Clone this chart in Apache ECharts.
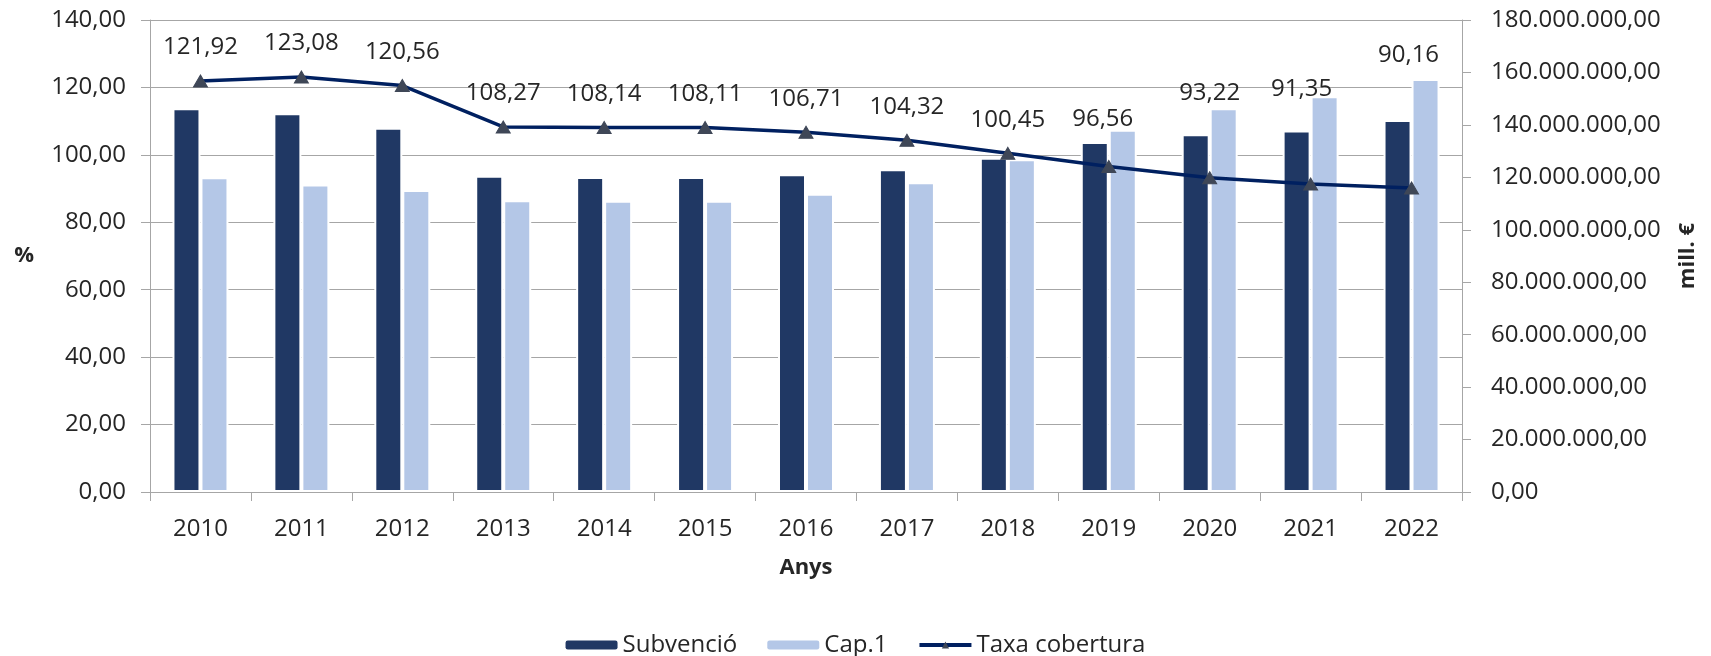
<!DOCTYPE html>
<html>
<head>
<meta charset="utf-8">
<title>Subvenció i Cap.1</title>
<script src="https://cdn.jsdelivr.net/npm/echarts@6.0.0/dist/echarts.min.js"></script>
<style>
html, body {
    margin: 0;
    padding: 0;
    background: #fff;
}
#chart {
    width: 1711px;
    height: 656px;
}
</style>
</head>
<body>
<div id="chart"></div>
<script>
// dades
var anys = ["2010", "2011", "2012", "2013", "2014", "2015", "2016", "2017", "2018", "2019", "2020", "2021", "2022"];
var subvencio = [146300000, 144400000, 138900000, 120600000, 120100000, 120100000, 121200000, 123100000, 127500000, 133500000, 136400000, 137900000, 141900000];
var cap1 = [120050000, 117300000, 115200000, 111300000, 111100000, 111100000, 113700000, 118100000, 126900000, 138100000, 146300000, 150900000, 157500000];
var taxaCobertura = [121.92, 123.08, 120.56, 108.27, 108.14, 108.11, 106.71, 104.32, 100.45, 96.56, 93.22, 91.35, 90.16];

// desplaçament manual de les etiquetes (com a l'original)
var labelDx = [0, 0, 0, 0, 0, 0, 0, 0, 0, -6, 0, -9, -3];
var labelDy = [0, 0, 0, 0, 0, 0, 0, 0, 0, -14, -51, -61, -99];

var FONT = "'Open Sans', 'DejaVu Sans', sans-serif";
var TXT = "#262626";
var GRIS = "#a6a6a6";

function fmtPct(v) {
    return Number(v).toFixed(2).replace(".", ",");
}
function fmtEur(v) {
    return String(Math.round(v)).replace(/\B(?=(\d{3})+(?!\d))/g, ".") + ",00";
}

var taxaData = taxaCobertura.map(function (v, i) {
    return {
        value: v,
        label: { offset: [labelDx[i], labelDy[i]] }
    };
});

var myChart = echarts.init(document.getElementById("chart"));
myChart.setOption({
    animation: false,
    textStyle: { fontFamily: FONT },
    grid: {
        left: 150,
        right: 249,
        top: 20,
        bottom: 164,
        containLabel: false
    },
    legend: {
        data: ["Subvenció", "Cap.1", "Taxa cobertura"],
        left: "center",
        top: 628,
        itemWidth: 52,
        itemHeight: 9,
        itemGap: 30,
        textStyle: { fontSize: 24, color: TXT, fontFamily: FONT },
        itemStyle: { borderWidth: 0 },
        lineStyle: { width: 4 }
    },
    xAxis: [{
        type: "category",
        data: anys,
        name: "Anys",
        nameLocation: "middle",
        nameGap: 65,
        nameTextStyle: { fontSize: 22, fontWeight: "bold", color: TXT, fontFamily: FONT },
        axisLine: { lineStyle: { color: GRIS, width: 1 } },
        axisTick: { show: true, length: 9, lineStyle: { color: GRIS } },
        axisLabel: { fontSize: 24, color: TXT, margin: 25 }
    }],
    yAxis: [{
        type: "value",
        min: 0,
        max: 140,
        interval: 20,
        name: "%",
        nameLocation: "middle",
        nameRotate: 0,
        nameGap: 116,
        nameTextStyle: { fontSize: 22, fontWeight: "bold", color: TXT, fontFamily: FONT },
        axisLine: { show: true, lineStyle: { color: GRIS } },
        axisTick: { show: true, length: 9, lineStyle: { color: GRIS } },
        axisLabel: { fontSize: 24, color: TXT, margin: 24, formatter: fmtPct },
        splitLine: { lineStyle: { color: GRIS, width: 1 } }
    }, {
        type: "value",
        position: "right",
        min: 0,
        max: 180000000,
        interval: 20000000,
        name: "mill. €",
        nameLocation: "middle",
        nameRotate: 90,
        nameGap: 215,
        nameTextStyle: { fontSize: 22, fontWeight: "bold", color: TXT, fontFamily: FONT },
        axisLine: { show: true, lineStyle: { color: GRIS } },
        axisTick: { show: true, length: 9, lineStyle: { color: GRIS } },
        axisLabel: { fontSize: 24, color: TXT, margin: 29, formatter: fmtEur },
        splitLine: { show: false }
    }],
    series: [{
        name: "Subvenció",
        type: "bar",
        yAxisIndex: 1,
        data: subvencio,
        barWidth: 28,
        barGap: "0%",
        itemStyle: { color: "#203864", borderColor: "#fff", borderWidth: 2 }
    }, {
        name: "Cap.1",
        type: "bar",
        yAxisIndex: 1,
        data: cap1,
        barWidth: 28,
        barGap: "0%",
        itemStyle: { color: "#b4c7e7", borderColor: "#fff", borderWidth: 2 }
    }, {
        name: "Taxa cobertura",
        type: "line",
        yAxisIndex: 0,
        data: taxaData,
        z: 5,
        symbol: "triangle",
        symbolSize: [14, 12],
        showAllSymbol: true,
        lineStyle: { color: "#002060", width: 3.5 },
        itemStyle: { color: "#3f4757", borderColor: "#3f4757" },
        label: {
            show: true,
            position: "top",
            distance: 15,
            fontSize: 24,
            color: TXT,
            formatter: function (p) { return fmtPct(p.value); }
        }
    }]
});
</script>
</body>
</html>
